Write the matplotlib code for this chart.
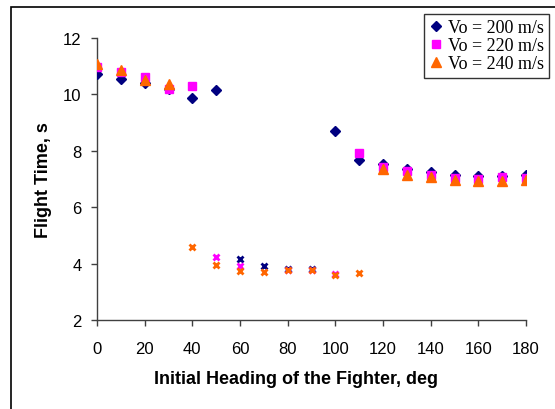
import matplotlib
matplotlib.use('Agg')
from matplotlib import pyplot as plt
from matplotlib.patches import Rectangle

# heading angles, deg
heading_200 = [0, 10, 20, 30, 40, 50, 100, 110, 120, 130, 140, 150, 160, 170, 180]
time_200 = [10.72, 10.55, 10.39, 10.19, 9.87, 10.16, 8.71, 7.67, 7.52, 7.35, 7.25, 7.15, 7.1, 7.1, 7.15]

heading_220 = [0, 10, 20, 30, 40, 110, 120, 130, 140, 150, 160, 170, 180]
time_220 = [10.98, 10.78, 10.6, 10.19, 10.29, 7.91, 7.43, 7.27, 7.15, 7.05, 7.0, 7.06, 7.05]

heading_240 = [0, 10, 20, 30, 120, 130, 140, 150, 160, 170, 180]
time_240 = [11.08, 10.88, 10.5, 10.37, 7.35, 7.14, 7.06, 6.98, 6.92, 6.93, 6.98]

# second (short) solution branch
heading_200b = [60, 70, 80, 90]
time_200b = [4.18, 3.92, 3.82, 3.8]

heading_220b = [50, 60, 80, 90, 100]
time_220b = [4.24, 3.9, 3.77, 3.77, 3.63]

heading_240b = [40, 50, 60, 70, 80, 90, 100, 110]
time_240b = [4.6, 3.96, 3.75, 3.69, 3.78, 3.78, 3.6, 3.66]

labels = ['Vo = 200 m/s', 'Vo = 220 m/s', 'Vo = 240 m/s']
colors = ['#000080', '#FF00FF', '#FF6600']

plt.rcParams['font.family'] = ['Liberation Sans', 'DejaVu Sans']

fig = plt.figure(figsize=(5.55, 4.1), dpi=100)
ax = fig.add_axes([97/555, 1 - 321/410, 429/555, 282/410])

ax.plot(heading_200, time_200, 'D', color=colors[0], ms=5.5, mec=colors[0], label=labels[0], zorder=3)
ax.plot(heading_220, time_220, 's', color=colors[1], ms=5.5, mec=colors[1], label=labels[1], zorder=4)
ax.plot(heading_240, time_240, '^', color=colors[2], ms=7, mec=colors[2], label=labels[2], zorder=5)

ax.plot(heading_200b, time_200b, 'x', color=colors[0], ms=4.5, mew=2, zorder=3)
ax.plot(heading_220b, time_220b, 'x', color=colors[1], ms=4.5, mew=2, zorder=4)
ax.plot(heading_240b, time_240b, 'x', color=colors[2], ms=4.5, mew=2, zorder=5)

ax.set_xlim(0, 180)
ax.set_ylim(2, 12)
ax.set_xticks(range(0, 181, 20))
ax.set_yticks(range(2, 13, 2))

for s in ['top', 'right']:
    ax.spines[s].set_visible(False)
for s in ['left', 'bottom']:
    ax.spines[s].set_color('#404040')
    ax.spines[s].set_linewidth(1)
ax.tick_params(axis='both', direction='out', length=4, width=1, color='#404040', labelsize=12)
ax.tick_params(axis='x', pad=11)
ax.tick_params(axis='y', pad=7)

ax.set_xlabel('Initial Heading of the Fighter, deg', fontsize=13, fontweight='bold')
ax.set_ylabel('Flight Time, s', fontsize=13, fontweight='bold')
ax.xaxis.set_label_coords(0.465, -0.178)
ax.yaxis.set_label_coords(-0.105, 0.5)

leg = ax.legend(loc='upper right', bbox_to_anchor=(549/555, 1 - 15/410),
                bbox_transform=fig.transFigure, borderaxespad=0,
                prop={'family': 'Liberation Serif', 'size': 13},
                frameon=True, fancybox=False, handlelength=0.7, handletextpad=0.3,
                labelspacing=0.05, borderpad=0.3, numpoints=1)
leg.get_frame().set_edgecolor('black')
leg.get_frame().set_linewidth(1)

# chart area border
fig.patches.append(Rectangle((11/555, -0.1), 1.0, 1.1 - 8/410, transform=fig.transFigure,
                             fill=False, edgecolor='black', linewidth=1.2))

fig.savefig('out.png', dpi=100)
